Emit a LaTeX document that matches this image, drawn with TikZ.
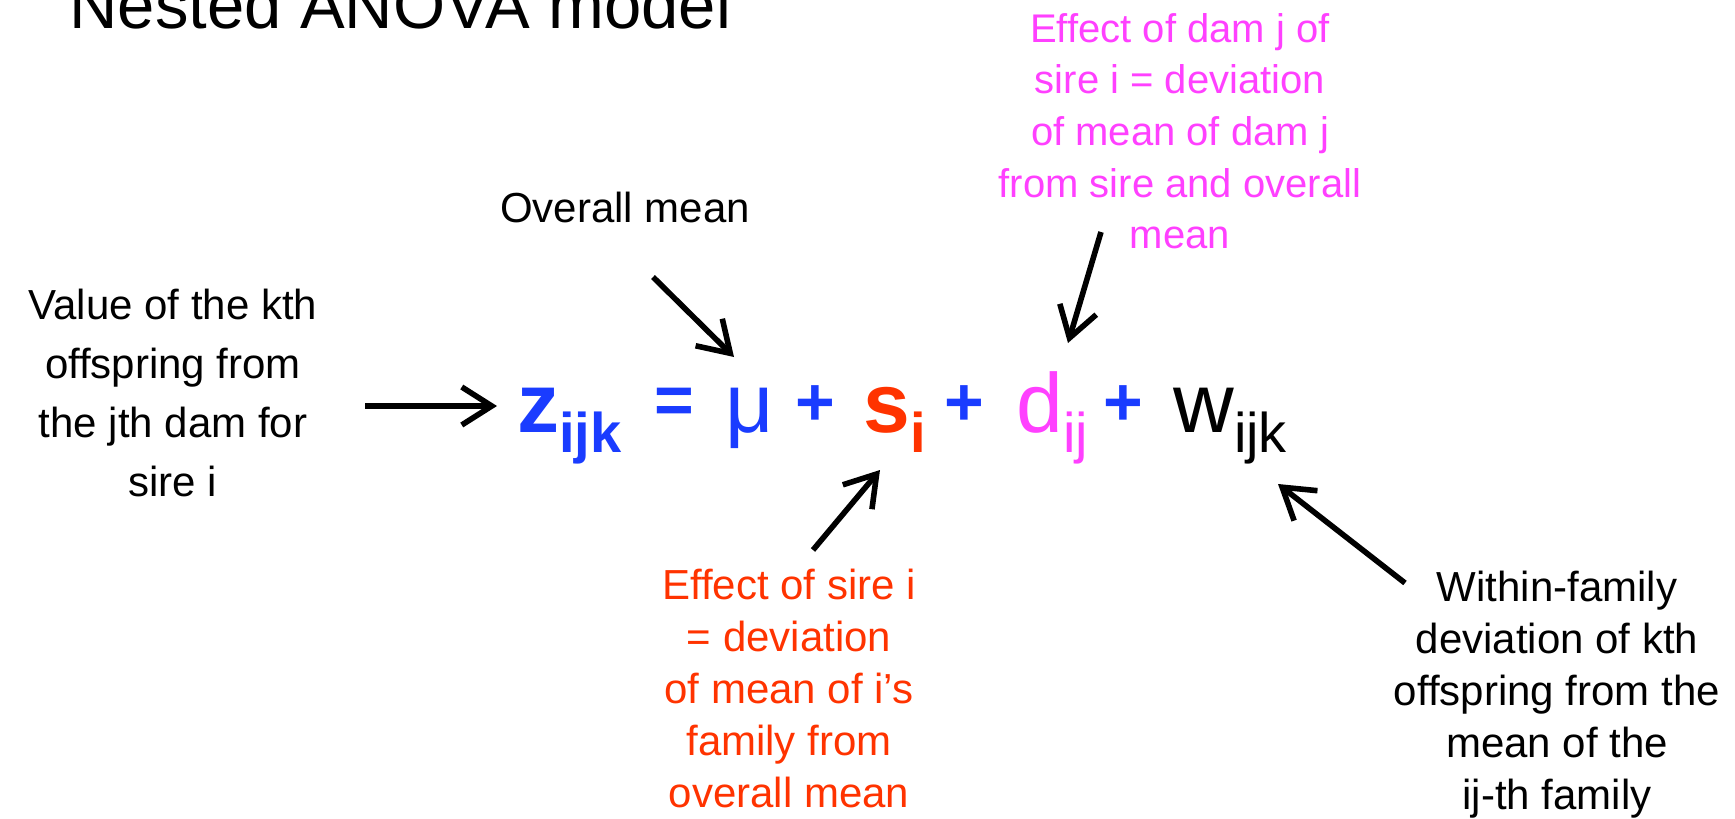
\documentclass[tikz,border=0pt]{standalone}
\usepackage{fontspec}
\setmainfont{Liberation Sans}
\usepackage{tikz}
\usetikzlibrary{arrows.meta}
\definecolor{EqBlue}{HTML}{1A3CFF}
\definecolor{SireRed}{HTML}{FF3300}
\definecolor{DamPink}{HTML}{FF40FF}
\newcommand{\eqsub}[1]{\raisebox{-10pt}{\fontsize{28}{28}\selectfont #1}}

\begin{document}
\begin{tikzpicture}[x=0.5pt,y=-0.5pt,
  note/.style={font=\fontsize{21}{26}\selectfont,align=center,inner sep=0pt,anchor=north},
  term/.style={font=\fontsize{42}{42}\selectfont,inner sep=0pt,anchor=base west},
  op/.style={font=\fontsize{34}{34}\selectfont\bfseries,inner sep=0pt,EqBlue},
  pointer/.style={-{Straight Barb[length=15pt,width=19pt]},line width=2.8pt}]
\useasboundingbox (0,0) rectangle (1735,819);
\node[anchor=base west,inner sep=0pt,font=\fontsize{33.5}{40}\selectfont] (title) at (69,28) {Nested ANOVA model};
% the model
\node[term,EqBlue] (z) at (517,432) {\bfseries z\eqsub{ijk}};
\node[op] (eq) at (674,406) {=};
\node[term,EqBlue] (mu) at (725,432) {μ};
\node[op] (plusA) at (815,406) {+};
\node[term,SireRed] (s) at (863,432) {\bfseries s\eqsub{i}};
\node[op] (plusB) at (964,406) {+};
\node[term,DamPink] (d) at (1016,432) {d\eqsub{ij}};
\node[op] (plusC) at (1123,406) {+};
\node[term] (w) at (1173,432) {w\eqsub{ijk}};
% labels
\node[anchor=base,inner sep=0pt,font=\fontsize{21}{26}\selectfont] (overall) at (625,222) {Overall mean};
\node[note,font=\fontsize{21}{29.5}\selectfont] (value) at (173,289) {Value of the kth\\offspring from\\the jth dam for\\sire i};
\node[note,DamPink,font=\fontsize{20}{25.8}\selectfont] (dam) at (1180,13) {Effect of dam j of\\sire i = deviation\\of mean of dam j\\from sire and overall\\mean};
\node[note,SireRed] (sire) at (789,569) {Effect of sire i\\= deviation\\of mean of i’s\\family from\\overall mean};
\node[note] (within) at (1557,571) {Within-family\\deviation of kth\\offspring from the\\mean of the\\ij-th family};
% arrows
\coordinate (valueOut) at (365,406);
\coordinate (zIn) at (497,406);
\coordinate (overallOut) at (653,277);
\coordinate (muIn) at (734,357);
\coordinate (damOut) at (1101,232);
\coordinate (dIn) at (1068,343);
\coordinate (sireOut) at (813,550);
\coordinate (sIn) at (880,470);
\coordinate (withinOut) at (1405,583);
\coordinate (wIn) at (1278,484);
\draw[pointer] (valueOut) -- (zIn);
\draw[pointer] (overallOut) -- (muIn);
\draw[pointer] (damOut) -- (dIn);
\draw[pointer] (sireOut) -- (sIn);
\draw[pointer] (withinOut) -- (wIn);
\end{tikzpicture}
\end{document}
